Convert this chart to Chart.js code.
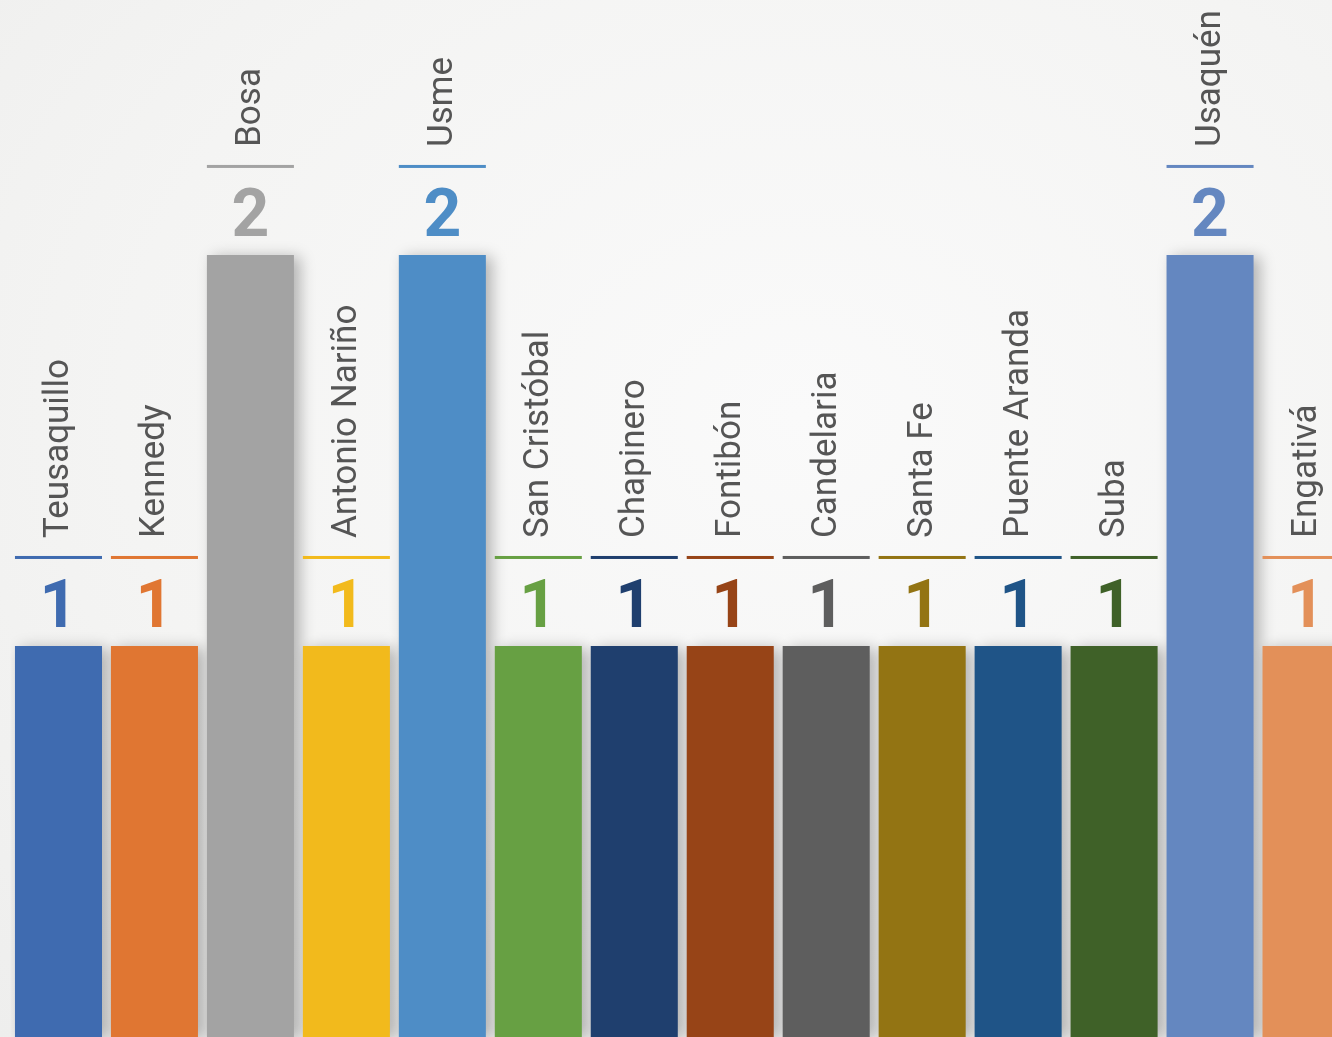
<!DOCTYPE html>
<html>
<head>
<meta charset="utf-8">
<script src="https://cdn.jsdelivr.net/npm/chart.js@4"></script>
<style>
  html, body { margin: 0; padding: 0; overflow: hidden; }
  body {
    width: 1332px; height: 1037px;
    background: radial-gradient(ellipse at 60% 40%, #fafafa 0%, #f4f4f3 60%, #eeeeed 100%);
  }
  #wrap { position: absolute; left: 0; top: 0; width: 1362px; height: 1037px; }
</style>
</head>
<body>
<div id="wrap"><canvas id="chart"></canvas></div>
<script>
const localidades = ['Teusaquillo', 'Kennedy', 'Bosa', 'Antonio Nariño', 'Usme', 'San Cristóbal', 'Chapinero',
  'Fontibón', 'Candelaria', 'Santa Fe', 'Puente Aranda', 'Suba', 'Usaquén', 'Engativá']
const valores = [1, 1, 2, 1, 2, 1, 1, 1, 1, 1, 1, 1, 2, 1]
const colores = ['#3f6bb0', '#e07632', '#a3a3a3', '#f2ba1c', '#4e8dc6', '#67a043', '#1f3f6e',
  '#974417', '#5e5e5e', '#937413', '#1f5487', '#3f6128', '#6487c0', '#e39059']

// sombra de las barras
const sombra = {
  id: 'sombra',
  beforeDatasetsDraw(chart) {
    const ctx = chart.ctx
    ctx.save()
    ctx.shadowColor = 'rgba(0,0,0,0.28)'
    ctx.shadowBlur = 14
    ctx.shadowOffsetX = 6
    ctx.shadowOffsetY = 2
  },
  afterDatasetsDraw(chart) {
    chart.ctx.restore()
  }
}

// numero, linea y nombre encima de cada barra
const etiquetas = {
  id: 'etiquetas',
  afterDatasetsDraw(chart) {
    const ctx = chart.ctx
    const meta = chart.getDatasetMeta(0)
    ctx.save()
    meta.data.forEach((bar, i) => {
      const x = bar.x
      const top = bar.y
      const w = bar.width
      ctx.fillStyle = colores[i]
      ctx.font = 'bold 66px Roboto'
      ctx.textAlign = 'center'
      ctx.textBaseline = 'alphabetic'
      ctx.fillText(String(valores[i]), x, top - 19)

      ctx.fillRect(x - w / 2, top - 90, w, 3)

      ctx.translate(x + 1, top - 108)
      ctx.rotate(-Math.PI / 2)
      ctx.fillStyle = '#555555'
      ctx.font = '35px Roboto'
      ctx.textAlign = 'left'
      ctx.textBaseline = 'middle'
      ctx.fillText(localidades[i], 0, 0)
      ctx.setTransform(1, 0, 0, 1, 0, 0)
    })
    ctx.restore()
  }
}

new Chart(document.querySelector('#chart'), {
  type: 'bar',
  data: {
    labels: localidades,
    datasets: [{
      data: valores,
      backgroundColor: colores,
      borderWidth: 0,
      barPercentage: 0.907,
      categoryPercentage: 1
    }]
  },
  options: {
    responsive: true,
    maintainAspectRatio: false,
    animation: false,
    layout: { padding: { left: 10.5, right: 8, top: 0, bottom: 0 } },
    plugins: { legend: { display: false }, tooltip: { enabled: false } },
    scales: {
      x: { display: false },
      y: { display: false, min: 0, max: 2.652 }
    }
  },
  plugins: [sombra, etiquetas]
})
</script>
</body>
</html>
